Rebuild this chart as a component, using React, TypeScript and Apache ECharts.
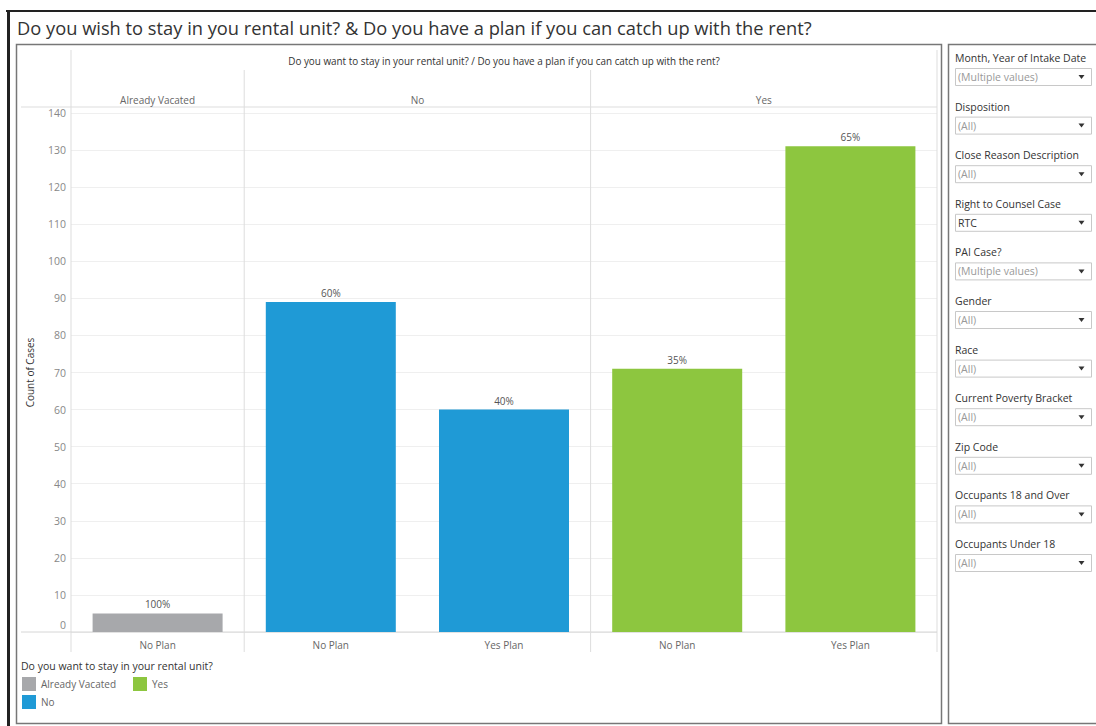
import React, { useEffect, useRef } from "react";
import * as echarts from "echarts";

const TITLE =
  "Do you wish to stay in you rental unit? & Do you have a plan if you can catch up with the rent?";
const HEADER =
  "Do you want to stay in your rental unit? / Do you have a plan if you can catch up with the rent?";
const LEGEND_TITLE = "Do you want to stay in your rental unit?";
const Y_NAME = "Count of Cases";

const groups = ["Already Vacated", "No", "Yes"];
const groupColors = ["#a7a8ab", "#1f9ad6", "#8dc63f"];
const barGroup = ["Already Vacated", "No", "No", "Yes", "Yes"];
const barPlan = ["No Plan", "No Plan", "Yes Plan", "No Plan", "Yes Plan"];
const counts = [5, 89, 60, 71, 131];
const yMin = 0;
const yMax = 140;
const yInterval = 10;

const filterLabels = [
  "Month, Year of Intake Date",
  "Disposition",
  "Close Reason Description",
  "Right to Counsel Case",
  "PAI Case?",
  "Gender",
  "Race",
  "Current Poverty Bracket",
  "Zip Code",
  "Occupants 18 and Over",
  "Occupants Under 18",
];
const filterValues = [
  "(Multiple values)",
  "(All)",
  "(All)",
  "RTC",
  "(Multiple values)",
  "(All)",
  "(All)",
  "(All)",
  "(All)",
  "(All)",
  "(All)",
];

const FONT = "Open Sans";

function groupTotal(g: string) {
  let s = 0;
  counts.forEach((c, i) => {
    if (barGroup[i] === g) s += c;
  });
  return s;
}

export default function App() {
  const ref = useRef<HTMLDivElement>(null);
  useEffect(() => {
    if (!ref.current) return;
    const chart = echarts.init(ref.current, null, { renderer: "svg" });

    const series = groups.map((g, gi) => ({
      name: g,
      type: "bar",
      stack: "all",
      barWidth: 130,
      itemStyle: { color: groupColors[gi] },
      data: counts.map((c, i) => (barGroup[i] === g ? c : "-")),
      label: {
        show: true,
        position: "top",
        distance: 4,
        color: "#555",
        fontSize: 10,
        fontFamily: FONT,
        formatter: (p: any) =>
          Math.round((counts[p.dataIndex] / groupTotal(barGroup[p.dataIndex])) * 100) + "%",
      },
    }));

    const option: any = {
      animation: false,
      textStyle: { fontFamily: FONT },
      grid: { left: 71, right: 159, top: 113, bottom: 94, containLabel: false },
      legend: [
        {
          data: ["Already Vacated", "No"],
          orient: "vertical",
          left: 22,
          top: 677,
          padding: 0,
          itemWidth: 14,
          itemHeight: 14,
          itemGap: 4,
          icon: "rect",
          textStyle: { color: "#666", fontSize: 10, fontFamily: FONT },
        },
        {
          data: ["Yes"],
          orient: "vertical",
          left: 133,
          top: 677,
          padding: 0,
          itemWidth: 14,
          itemHeight: 14,
          itemGap: 4,
          icon: "rect",
          textStyle: { color: "#666", fontSize: 10, fontFamily: FONT },
        },
      ],
      xAxis: {
        type: "category",
        data: barPlan,
        axisLine: { show: false },
        axisTick: { show: false },
        axisLabel: { color: "#666", fontSize: 10, margin: 8, fontFamily: FONT },
        splitLine: { show: false },
      },
      yAxis: {
        type: "value",
        min: yMin,
        max: yMax,
        interval: yInterval,
        name: Y_NAME,
        nameLocation: "middle",
        nameRotate: 90,
        nameGap: 36,
        nameTextStyle: { color: "#333", fontSize: 10, fontFamily: FONT },
        axisLine: { show: false },
        axisTick: { show: false },
        axisLabel: {
          color: "#888",
          fontSize: 10.5,
          margin: 5,
          fontFamily: FONT,
          formatter: (v: number) => (v === 0 ? "{z|0}" : String(v)),
          rich: { z: { color: "#888", fontSize: 10.5, fontFamily: FONT, padding: [0, 0, 15, 0] } },
        },
        splitLine: { lineStyle: { color: "#efefef", width: 1 } },
      },
      series,
    };
    chart.setOption(option);

    const px = (i: number) => chart.convertToPixel({ xAxisIndex: 0 }, i) as number;
    const py = (v: number) => chart.convertToPixel({ yAxisIndex: 0 }, v) as number;
    const step = px(1) - px(0);
    const leftX = px(0) - step / 2;
    const rightX = px(counts.length - 1) + step / 2;
    const baseY = py(0);
    const headerLineY = 107;

    const g: any[] = [];
    g.push({ type: "line", shape: { x1: 6, y1: 11, x2: 1096, y2: 11 }, style: { stroke: "#222", lineWidth: 2 } });
    g.push({ type: "line", shape: { x1: 8.5, y1: 11, x2: 8.5, y2: 726 }, style: { stroke: "#222", lineWidth: 3 } });
    g.push({
      type: "text",
      x: 17,
      y: 27,
      style: { text: TITLE, fontSize: 18.3, fontFamily: FONT, fill: "#333", verticalAlign: "middle" },
    });
    g.push({
      type: "rect",
      shape: { x: 16.5, y: 44.5, width: 925, height: 679 },
      style: { fill: "none", stroke: "#777", lineWidth: 1.5 },
      z: -1,
    });
    g.push({
      type: "rect",
      shape: { x: 948.5, y: 44.5, width: 150, height: 679 },
      style: { fill: "none", stroke: "#777", lineWidth: 1.5 },
      z: -1,
    });
    g.push({
      type: "text",
      x: (leftX + rightX) / 2,
      y: 61,
      style: { text: HEADER, fontSize: 9.9, fontFamily: FONT, fill: "#333", align: "center", verticalAlign: "middle" },
    });
    g.push({ type: "line", shape: { x1: leftX, y1: 50, x2: leftX, y2: 652 }, style: { stroke: "#ddd", lineWidth: 1 } });
    g.push({ type: "line", shape: { x1: rightX, y1: 50, x2: rightX, y2: 652 }, style: { stroke: "#ddd", lineWidth: 1 } });
    g.push({ type: "line", shape: { x1: 21, y1: headerLineY, x2: rightX, y2: headerLineY }, style: { stroke: "#ddd", lineWidth: 1 } });
    g.push({ type: "line", shape: { x1: 21, y1: baseY, x2: rightX, y2: baseY }, style: { stroke: "#d6d6d6", lineWidth: 1 } });
    groups.forEach((grp, gi) => {
      const idx = barGroup.map((b, i) => (b === grp ? i : -1)).filter((i) => i >= 0);
      const x0 = px(idx[0]) - step / 2;
      const x1 = px(idx[idx.length - 1]) + step / 2;
      g.push({
        type: "text",
        x: (x0 + x1) / 2,
        y: 100,
        style: { text: grp, fontSize: 10, fontFamily: FONT, fill: "#666", align: "center", verticalAlign: "middle" },
      });
      if (gi > 0) {
        g.push({ type: "line", shape: { x1: x0, y1: 70, x2: x0, y2: 652 }, style: { stroke: "#ddd", lineWidth: 1 } });
      }
    });
    g.push({
      type: "text",
      x: 21,
      y: 666,
      style: { text: LEGEND_TITLE, fontSize: 10.5, fontFamily: FONT, fill: "#333", verticalAlign: "middle" },
    });
    filterLabels.forEach((lab, i) => {
      const y0 = 58 + i * 48.6;
      g.push({
        type: "text",
        x: 955,
        y: y0,
        style: { text: lab, fontSize: 10.5, fontFamily: FONT, fill: "#333", verticalAlign: "middle" },
      });
      g.push({
        type: "rect",
        shape: { x: 955.5, y: y0 + 10.5, width: 136, height: 17 },
        style: { fill: "#fff", stroke: "#c8c8c8", lineWidth: 1 },
      });
      const v = filterValues[i];
      g.push({
        type: "text",
        x: 958,
        y: y0 + 19,
        style: {
          text: v,
          fontSize: 10.5,
          fontFamily: FONT,
          fill: v.startsWith("(") ? "#999" : "#333",
          verticalAlign: "middle",
        },
      });
      g.push({
        type: "polygon",
        shape: { points: [[1078.5, y0 + 17], [1084.5, y0 + 17], [1081.5, y0 + 21]] },
        style: { fill: "#333" },
      });
    });
    chart.setOption({ graphic: g });

    return () => chart.dispose();
  }, []);
  return (
    <div
      ref={ref}
      style={{ position: "fixed", left: 0, top: 0, width: 1096, height: 726, background: "#fff" }}
    />
  );
}
